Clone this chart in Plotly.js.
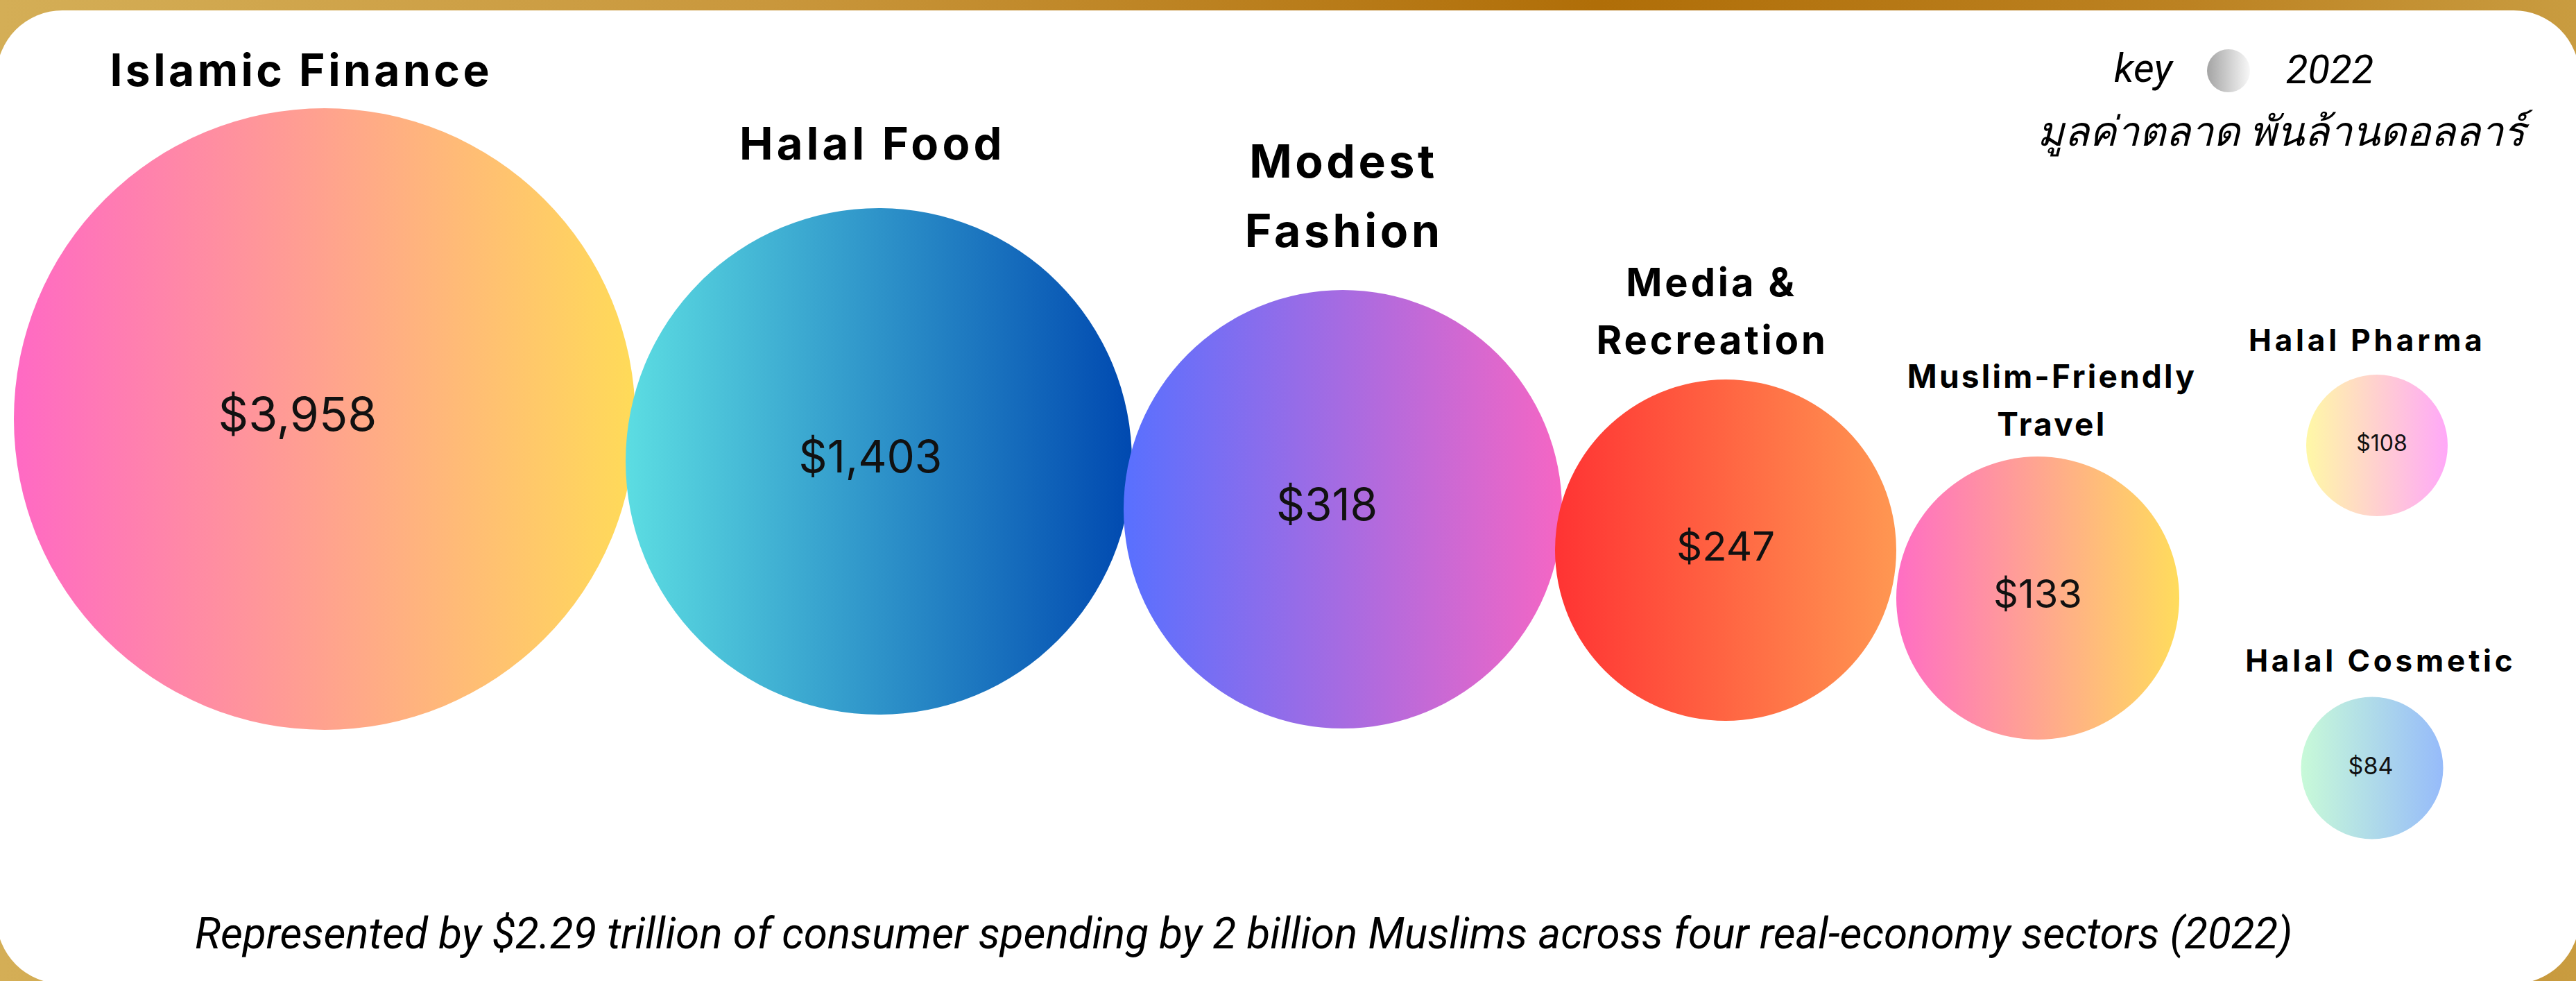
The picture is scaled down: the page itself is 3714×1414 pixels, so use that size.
<!DOCTYPE html>
<html>
<head>
<meta charset="utf-8">
<script src="https://cdn.plot.ly/plotly-3.0.1.min.js"></script>
<style>
  html, body { margin: 0; padding: 0; background: #ffffff; }
  #chart { width: 3714px; height: 1414px; }
</style>
</head>
<body>
<div id="chart"></div>
<script>
// ---------------- DATA ----------------
const categories = ['Islamic Finance', 'Halal Food', 'Modest Fashion', 'Media & Recreation',
                    'Muslim-Friendly Travel', 'Halal Pharma', 'Halal Cosmetic'];
const values = [3958, 1403, 318, 247, 133, 108, 84];   // market value, USD billion (2022)
const titleLines = [['Islamic Finance'], ['Halal Food'], ['Modest', 'Fashion'], ['Media &amp;', 'Recreation'],
                    ['Muslim-Friendly', 'Travel'], ['Halal Pharma'], ['Halal Cosmetic']];
const keyYear = '2022';
const keyWord = 'key';
const keyUnit = 'มูลค่าตลาด พันล้านดอลลาร์';
const caption = 'Represented by $2.29 trillion of consumer spending by 2 billion Muslims across four real-economy sectors (2022)';

// ---------------- LAYOUT / STYLE ----------------
const W = 3714, H = 1414;
const bubbleDiam = [896, 730, 632, 492, 408, 204, 205];
const bubbleX = [468, 1267, 1936, 2488, 2938, 3427, 3420];
const bubbleY = [604, 665, 734, 793, 862, 642, 1107];
const labelDx = [-39, -12, -23, 0, 0, 7, -2];
const leftColor = ['#FF69C4', '#5CDDE2', '#5870FF', '#FF3333', '#FF6EC4', '#FFF8A6', '#C8FAD8'];
const rightColor = ['#FFDB58', '#0049B0', '#F566C4', '#FF9752', '#FFDC5C', '#FFA8F8', '#96BBFA'];
const valueFont = [68, 64, 64, 58, 56, 32, 34];
const titleFont = [64, 65, 66, 56, 46, 44, 44];
const titleSpacing = [0.07, 0.08, 0.07, 0.07, 0.07, 0.11, 0.11];
const titleX = [434, 1258, 1937, 2468, 2958, 3413, 3432];
const titleY = [[100], [206], [232, 332], [407, 490], [542, 611], [490], [952]];

const valueLabels = values.map(v => '$' + v.toLocaleString('en-US'));

// background card (gold frame + white rounded card)
const bgSvg = "<svg xmlns='http://www.w3.org/2000/svg' width='" + W + "' height='" + H + "' viewBox='0 0 " + W + " " + H + "'>" +
  "<defs><linearGradient id='g' x1='0' y1='0' x2='1' y2='0'>" +
  "<stop offset='0' stop-color='#D4AE56'/><stop offset='0.3' stop-color='#C9973C'/>" +
  "<stop offset='0.62' stop-color='#B06E08'/><stop offset='0.85' stop-color='#BC8222'/>" +
  "<stop offset='1' stop-color='#C99C40'/></linearGradient></defs>" +
  "<rect x='0' y='0' width='" + W + "' height='" + H + "' fill='url(#g)'/>" +
  "<rect x='-5' y='15' width='" + (W + 10) + "' height='1403' rx='95' ry='95' fill='#ffffff'/></svg>";
const bgSrc = 'data:image/svg+xml;charset=utf-8,' + encodeURIComponent(bgSvg);

const bubbles = {
  type: 'scatter', mode: 'markers',
  x: bubbleX, y: bubbleY, customdata: values, text: categories,
  marker: { size: bubbleDiam, color: leftColor, opacity: 1,
            gradient: { type: 'horizontal', color: rightColor }, line: { width: 0 } },
  hoverinfo: 'skip', cliponaxis: false, showlegend: false
};

const valueText = {
  type: 'scatter', mode: 'text',
  x: bubbleX.map((x, i) => x + labelDx[i]), y: bubbleY,
  text: valueLabels,
  textposition: 'middle center',
  textfont: { family: 'Inter, Lato, sans-serif', size: valueFont, color: '#111111' },
  hoverinfo: 'skip', cliponaxis: false, showlegend: false
};

const keyMarker = {
  type: 'scatter', mode: 'markers',
  x: [3213], y: [102],
  marker: { size: 62, color: '#A4A4A4', gradient: { type: 'horizontal', color: '#F8F8F8' }, line: { width: 0 } },
  hoverinfo: 'skip', cliponaxis: false, showlegend: false
};

const annotations = [];
titleLines.forEach((lines, i) => {
  lines.forEach((ln, j) => {
    annotations.push({
      x: titleX[i], y: titleY[i][j], xref: 'x', yref: 'y', text: ln, showarrow: false,
      xanchor: 'center', yanchor: 'middle',
      font: { family: 'Inter, sans-serif', size: titleFont[i], color: '#000000', weight: 700 },
      _spacing: titleSpacing[i]
    });
  });
});
const italic = { family: 'Roboto, sans-serif', style: 'italic', color: '#000000' };
annotations.push({ x: 3091, y: 98, xref: 'x', yref: 'y', text: keyWord, showarrow: false,
  xanchor: 'center', yanchor: 'middle', font: Object.assign({}, italic, { size: 58 }) });
annotations.push({ x: 3359, y: 100, xref: 'x', yref: 'y', text: keyYear, showarrow: false,
  xanchor: 'center', yanchor: 'middle', font: Object.assign({}, italic, { size: 58 }) });
annotations.push({ x: 3294, y: 190, xref: 'x', yref: 'y', text: keyUnit, showarrow: false,
  xanchor: 'center', yanchor: 'middle', font: Object.assign({}, italic, { size: 59 }) });
annotations.push({ x: 1793, y: 1345, xref: 'x', yref: 'y', text: caption, showarrow: false,
  xanchor: 'center', yanchor: 'middle', font: Object.assign({}, italic, { size: 62 }) });

// letter spacing for the bold titles
let css = '';
annotations.forEach((a, i) => {
  if (a._spacing) css += 'g.annotation[data-index="' + i + '"] text { letter-spacing: ' + a._spacing + 'em; }\n';
  delete a._spacing;
});
const st = document.createElement('style'); st.textContent = css; document.head.appendChild(st);

const layout = {
  width: W, height: H,
  margin: { l: 0, r: 0, t: 0, b: 0, pad: 0 },
  paper_bgcolor: '#ffffff', plot_bgcolor: 'rgba(0,0,0,0)',
  xaxis: { range: [0, W], visible: false, fixedrange: true },
  yaxis: { range: [H, 0], visible: false, fixedrange: true },
  showlegend: false,
  images: [{ source: bgSrc, xref: 'paper', yref: 'paper', x: 0, y: 1, sizex: 1, sizey: 1,
             xanchor: 'left', yanchor: 'top', sizing: 'stretch', layer: 'below' }],
  annotations: annotations
};

Plotly.newPlot('chart', [bubbles, valueText, keyMarker], layout, { staticPlot: true, displayModeBar: false });
</script>
</body>
</html>
